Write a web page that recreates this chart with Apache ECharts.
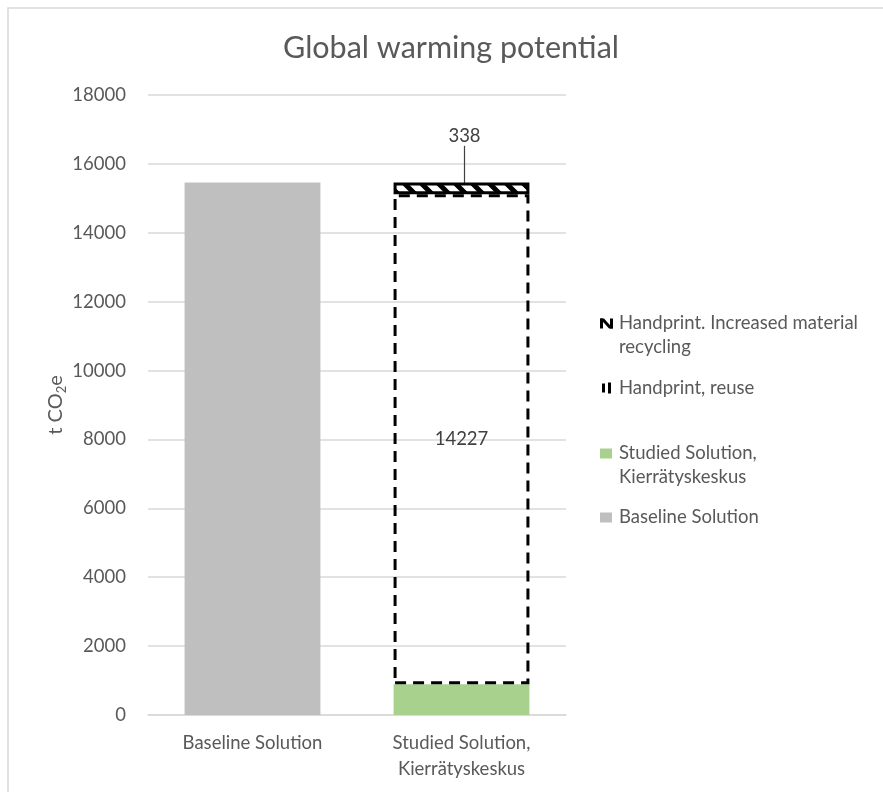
<!DOCTYPE html>
<html>
<head>
<meta charset="utf-8">
<script src="https://cdn.jsdelivr.net/npm/echarts@6/dist/echarts.min.js"></script>
<style>
  html, body { margin: 0; padding: 0; background: #fff; }
  #chart { width: 883px; height: 792px; }
</style>
</head>
<body>
<div id="chart"></div>
<script>
// Categories and stacked values (t CO2e)
const categories = ['Baseline Solution', 'Studied Solution,\nKierrätyskeskus'];
const baselineValues = [15460, null];
const studiedValues = [null, 895];
const reuseValues = [null, 14227];
const recyclingValues = [null, 338];
const yTicks = { min: 0, max: 18000, interval: 2000 };

const seriesNames = {
  recycling: 'Handprint. Increased material recycling',
  reuse: 'Handprint, reuse',
  studied: 'Studied Solution, Kierrätyskeskus',
  baseline: 'Baseline Solution'
};

const FONT = 'Lato';
const TEXT = '#595959';
const FS = 18.5;
const GREEN = '#a9d18e';
const GREY = '#bfbfbf';

// Diagonal hatch used for the recycling handprint
function hatchPattern() {
  const s = 17;
  const c = document.createElement('canvas');
  c.width = s; c.height = s;
  const g = c.getContext('2d');
  g.fillStyle = '#fff';
  g.fillRect(0, 0, s, s);
  g.strokeStyle = '#000';
  g.lineWidth = 5;
  g.beginPath();
  for (let k = -1; k <= 1; k++) {
    g.moveTo(k * s - 2, -2);
    g.lineTo(k * s + s + 2, s + 2);
  }
  g.stroke();
  return c;
}
const hatch = { image: hatchPattern(), repeat: 'repeat' };

// Legend icons: glyph drawn in the band of the first text line
function legendIcon(kind, height) {
  const c = document.createElement('canvas');
  c.width = 14; c.height = height;
  const g = c.getContext('2d');
  const y0 = (height > 24 ? 12 : height / 2) - 5.5;
  if (kind === 'reuse') {
    g.fillStyle = '#000';
    g.fillRect(2, y0 + 1, 3, 9);
    g.fillRect(8, y0, 3, 11);
  } else if (kind === 'recycling') {
    g.fillStyle = '#000';
    g.fillRect(0, y0 + 1, 3, 10);
    g.fillRect(10, y0 + 1, 3, 10);
    g.beginPath();
    g.moveTo(0, y0 + 1); g.lineTo(4, y0 + 1); g.lineTo(13, y0 + 11); g.lineTo(9, y0 + 11);
    g.closePath(); g.fill();
  } else {
    g.fillStyle = kind;
    g.fillRect(0, y0 + 1, 12, 10);
  }
  return 'image://' + c.toDataURL();
}

const chart = echarts.init(document.getElementById('chart'), null, { renderer: 'canvas' });

function legendBlock(name, top, kind, twoLines) {
  const h = twoLines ? 48 : 24;
  return {
    data: [name],
    left: 600,
    top: top,
    padding: 0,
    orient: 'vertical',
    itemWidth: 14,
    itemHeight: h,
    itemGap: 0,
    selectedMode: false,
    icon: legendIcon(kind, h),
    textStyle: {
      fontFamily: FONT, fontSize: FS, color: TEXT, lineHeight: 24,
      padding: [0, 0, 0, 0]
    },
    formatter: function (n) {
      if (n === seriesNames.recycling) return 'Handprint. Increased material\nrecycling';
      if (n === seriesNames.studied) return 'Studied Solution,\nKierrätyskeskus';
      return n;
    }
  };
}

chart.setOption({
  animation: false,
  backgroundColor: '#fff',
  title: {
    text: 'Global warming potential',
    left: 446,
    textAlign: 'center',
    top: 28,
    textStyle: { fontFamily: FONT, fontSize: 30.5, fontWeight: 'normal', color: TEXT }
  },
  legend: [
    legendBlock(seriesNames.recycling, 311, 'recycling', true),
    legendBlock(seriesNames.reuse, 376, 'reuse', false),
    legendBlock(seriesNames.studied, 441, GREEN, true),
    legendBlock(seriesNames.baseline, 505, GREY, false)
  ],
  grid: { left: 148, right: 317, top: 95, bottom: 77 },
  xAxis: {
    type: 'category',
    data: categories,
    axisLine: { lineStyle: { color: '#d9d9d9', width: 1.5 } },
    axisTick: { show: false },
    axisLabel: { fontFamily: FONT, fontSize: FS, color: TEXT, margin: 15, lineHeight: 26 }
  },
  yAxis: {
    type: 'value',
    min: yTicks.min,
    max: yTicks.max,
    interval: yTicks.interval,
    name: '{a|t CO}{b|2}{a|e}',
    nameLocation: 'middle',
    nameRotate: 90,
    nameGap: 80,
    nameTextStyle: {
      rich: {
        a: { fontFamily: FONT, fontSize: 20, color: TEXT, lineHeight: 24, verticalAlign: 'middle' },
        b: { fontFamily: FONT, fontSize: 13, color: TEXT, lineHeight: 24, verticalAlign: 'bottom', padding: [8, 0, 0, 0] }
      }
    },
    axisLine: { show: false },
    axisTick: { show: false },
    splitLine: { lineStyle: { color: '#d9d9d9', width: 1.5 } },
    axisLabel: {
      fontFamily: FONT, fontSize: FS, color: TEXT, margin: 22,
      formatter: function (v) { return String(v); }
    }
  },
  series: [
    {
      name: seriesNames.baseline,
      type: 'bar',
      stack: 'total',
      barWidth: '65%',
      data: baselineValues,
      itemStyle: { color: GREY }
    },
    {
      name: seriesNames.studied,
      type: 'bar',
      stack: 'total',
      data: studiedValues,
      itemStyle: { color: GREEN }
    },
    {
      name: seriesNames.reuse,
      type: 'bar',
      stack: 'total',
      data: reuseValues,
      itemStyle: {
        color: 'rgba(255,255,255,0)',
        borderColor: '#000',
        borderWidth: 3,
        borderType: [11, 7]
      },
      label: {
        show: true,
        position: 'inside',
        fontFamily: FONT,
        fontSize: FS,
        color: '#404040'
      }
    },
    {
      name: seriesNames.recycling,
      type: 'bar',
      stack: 'total',
      data: recyclingValues,
      itemStyle: {
        color: hatch,
        borderColor: '#000',
        borderWidth: 3
      },
      label: {
        show: true,
        position: 'inside',
        fontFamily: FONT,
        fontSize: FS,
        color: '#404040'
      },
      labelLayout: { dx: 3, dy: -52 },
      labelLine: { show: true, lineStyle: { color: '#404040', width: 1.2 } }
    }
  ],
  graphic: [
    {
      type: 'polyline',
      silent: true,
      shape: { points: [[8, 792], [8, 8], [883, 8]] },
      style: { stroke: '#d9d9d9', lineWidth: 1.5, fill: null }
    }
  ]
});
</script>
</body>
</html>
